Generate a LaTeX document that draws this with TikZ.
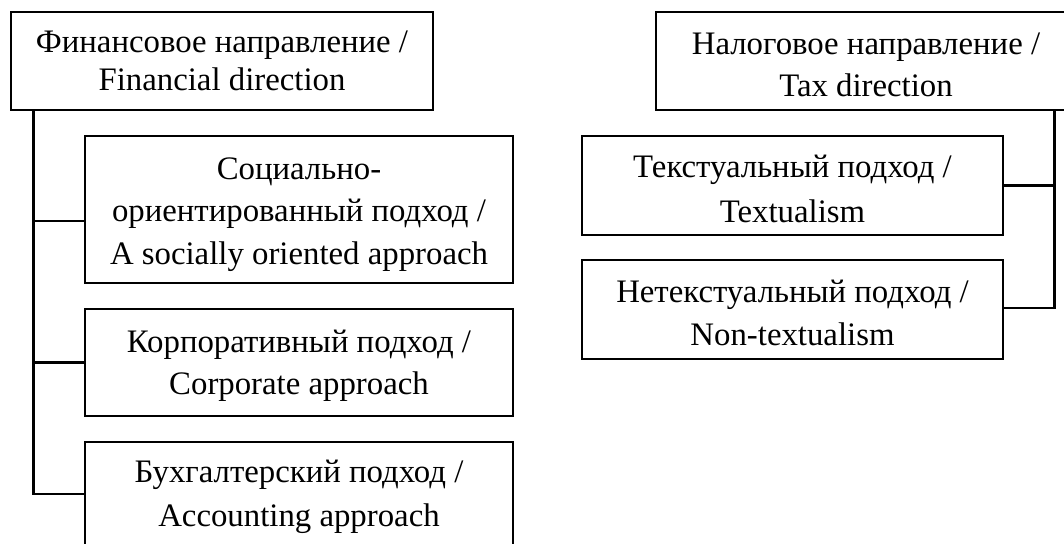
\documentclass[tikz,border=0pt]{standalone}
\usepackage{fontspec}
\setmainfont{Liberation Serif}
% invisible strut that lowers the text block inside a box
\newcommand\topstrut[1]{\rule{0pt}{#1}}
\begin{document}
\begin{tikzpicture}[x=0.75pt,y=-0.75pt,
  box/.style={draw,line width=2.1pt,rectangle,align=center,inner sep=0pt,
    font=\fontsize{24.6}{#1}\selectfont},
  box/.default=28pt,
  link/.style={line width=2.1pt}]
\def\px{0.75pt}
\useasboundingbox (0,0) rectangle (1064,543);
\fill[white] (0,0) rectangle (1064,543);
\clip (0,0) rectangle (1064,543);

% financial branch
\node[box, minimum width=422*\px, minimum height=98*\px] (fin) at (222,61)
  {Финансовое направление /\\Financial direction};
\node[box=32pt, minimum width=428*\px, minimum height=147*\px] (soc) at (299,209.5)
  {\topstrut{24pt}Социально-\\ориентированный подход /\\A socially oriented approach};
\node[box=32pt, minimum width=428*\px, minimum height=107*\px] (corp) at (299,362.5)
  {\topstrut{21.5pt}Корпоративный подход /\\Corporate approach};
\node[box=33pt, minimum width=428*\px, minimum height=110*\px] (acc) at (299,497)
  {Бухгалтерский подход /\\Accounting approach};

% tax branch
\node[box=31.5pt, minimum width=420*\px, minimum height=98*\px] (tax) at (866,61)
  {\topstrut{22pt}Налоговое направление /\\Tax direction};
\node[box=33.5pt, minimum width=421*\px, minimum height=99*\px] (text) at (792.5,185.5)
  {\topstrut{21.5pt}Текстуальный подход /\\Textualism};
\node[box=32.5pt, minimum width=421*\px, minimum height=99*\px] (nontext) at (792.5,309.5)
  {\topstrut{21.5pt}Нетекстуальный подход /\\Non-textualism};

% connectors
\coordinate (ftrunk) at ([xshift=24*\px]fin.south west);
\draw[link] (ftrunk) |- ([yshift=-11.5*\px]soc.west);
\draw[link] (ftrunk) |- (corp.west);
\draw[link] (ftrunk) |- ([yshift=3*\px]acc.west);

\coordinate (ttrunk) at ([xshift=-23*\px]tax.south east);
\draw[link] (ttrunk) |- (text.east);
\draw[link] (ttrunk) |- ([yshift=1.5*\px]nontext.east);
\end{tikzpicture}
\end{document}
